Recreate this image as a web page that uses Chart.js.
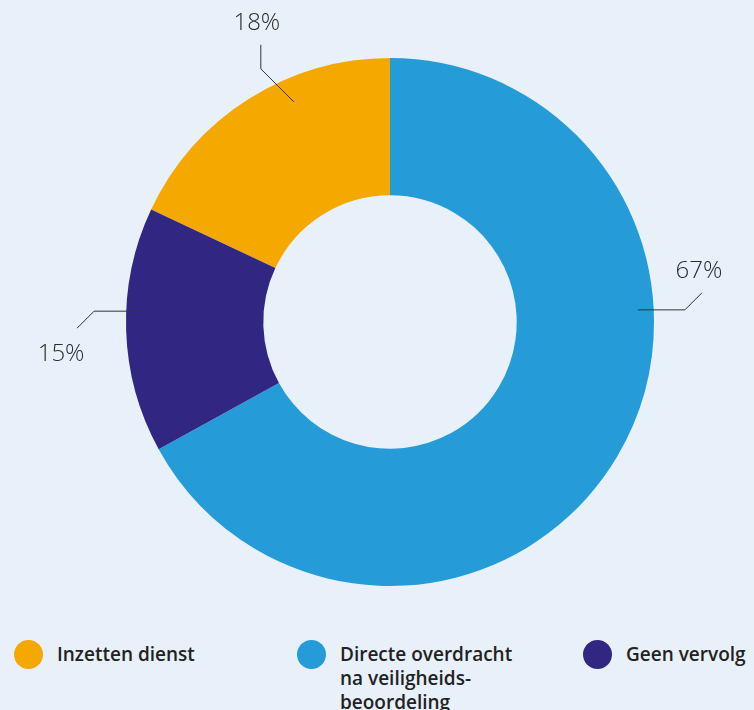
<!DOCTYPE html>
<html>
<head>
<meta charset="utf-8">
<script src="https://cdn.jsdelivr.net/npm/chart.js@4"></script>
<style>
  html, body { margin:0; padding:0; background:#e8f0fa; }
  body { width:754px; height:710px; position:relative; overflow:hidden; font-family:"Open Sans", "Noto Sans", sans-serif; }
  #wrap { position:absolute; left:0; top:0; width:754px; height:620px; }
  .legend { position:absolute; top:640px; display:flex; align-items:flex-start; gap:14px; font-size:19px; font-weight:600; color:#222; line-height:24px; }
  .legend .dot { width:29px; height:29px; border-radius:50%; flex:none; }
  .legend .txt { margin-top:2px; }
</style>
</head>
<body>
<div id="wrap"><canvas id="chart"></canvas></div>
<div id="legend"></div>
<script>
/* ===== DATA ===== */
const labels = ['Inzetten dienst', 'Directe overdracht na veiligheids-beoordeling', 'Geen vervolg'];
const legendLines = [['Inzetten dienst'], ['Directe overdracht', 'na veiligheids-', 'beoordeling'], ['Geen vervolg']];
const values = [18, 67, 15];
const colors = ['#f5a800', '#259bd7', '#312782'];

/* ===== LABEL STYLE (leader lines) ===== */
// anchor angle (deg from 12 o'clock, clockwise), anchor radius factor, elbow + end offsets
const leaderAngle = [-23.6, 87.2, 272.5];
const leaderRadius = [0.91, 0.94, 0.94];
const leaderElbow = [[-33, -33], [47, 0], [-48, 0]];
const leaderEnd = [[-33, -57], [64, -17], [-65, 17]];
const legendX = [14, 297, 583];

const leaderPlugin = {
  id: 'leaders',
  afterDatasetsDraw(chart) {
    const ctx = chart.ctx;
    const arc = chart.getDatasetMeta(0).data[0];
    const { x: cx, y: cy, outerRadius } = arc.getProps(['x', 'y', 'outerRadius'], true);
    ctx.save();
    values.forEach((v, i) => {
      const a = leaderAngle[i] * Math.PI / 180;
      const r = outerRadius * leaderRadius[i];
      const ax = cx + Math.sin(a) * r, ay = cy - Math.cos(a) * r;
      const ex = ax + leaderElbow[i][0], ey = ay + leaderElbow[i][1];
      const tx = ax + leaderEnd[i][0], ty = ay + leaderEnd[i][1];
      ctx.strokeStyle = '#333';
      ctx.lineWidth = 1;
      ctx.beginPath();
      ctx.moveTo(ax, ay); ctx.lineTo(ex, ey); ctx.lineTo(tx, ty);
      ctx.stroke();
      ctx.fillStyle = '#2b2b2b';
      ctx.font = '300 24px "Open Sans", "Noto Sans", sans-serif';
      ctx.textAlign = 'center';
      ctx.textBaseline = 'alphabetic';
      let lx = tx, ly;
      if (ty < ey) ly = ty - 15;
      else ly = ty + 33;
      if (i === 1) lx = tx - 3;
      if (i === 2) lx = tx - 16;
      if (i === 0) lx = tx - 4;
      ctx.fillText(v + '%', lx, ly);
    });
    ctx.restore();
  }
};

/* ===== CHART ===== */
new Chart(document.getElementById('chart'), {
  type: 'doughnut',
  data: { labels, datasets: [{ data: values, backgroundColor: colors, borderWidth: 0 }] },
  options: {
    responsive: true, maintainAspectRatio: false, animation: false,
    rotation: -values[0] * 3.6,
    cutout: '48%',
    layout: { padding: { top: 58, bottom: 34, left: 126, right: 100 } },
    plugins: { legend: { display: false }, tooltip: { enabled: false } }
  },
  plugins: [leaderPlugin]
});

/* ===== LEGEND ===== */
document.getElementById('legend').innerHTML = labels.map((l, i) =>
  `<div class="legend" style="left:${legendX[i]}px"><div class="dot" style="background:${colors[i]}"></div><div class="txt">${legendLines[i].join('<br>')}</div></div>`
).join('');
</script>
</body>
</html>
